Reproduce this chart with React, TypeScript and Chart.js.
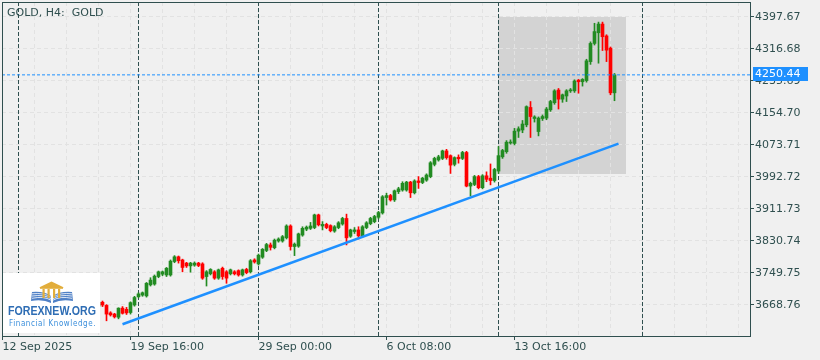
import { useEffect, useRef } from "react";
import { Chart, registerables } from "chart.js";

Chart.register(...registerables);

// ---- Data (GOLD H4, bar index 0 = 12 Sep 2025 08:00) ----
const OPEN = [
  3655, 3644, 3650, 3640, 3643, 3638, 3646, 3652, 3665, 3680,
  3679, 3685, 3695, 3690, 3700, 3696, 3690, 3688, 3676, 3668,
  3674, 3700, 3660, 3655, 3665, 3675, 3667, 3648, 3645, 3637,
  3660, 3657, 3649, 3668, 3689, 3693, 3691, 3719, 3721, 3740,
  3746, 3744, 3744, 3778, 3790, 3782, 3774, 3767, 3769, 3774,
  3772, 3740, 3747, 3752, 3736, 3761, 3752, 3747, 3752, 3755,
  3744, 3758, 3752, 3782, 3772, 3789, 3806, 3820, 3813, 3830,
  3830, 3838, 3868, 3816, 3817, 3845, 3860, 3862, 3864, 3896,
  3868, 3872, 3869, 3855, 3864, 3873, 3887, 3842, 3854, 3858,
  3843, 3864, 3874, 3879, 3890, 3901, 3940, 3945, 3934, 3955,
  3959, 3959, 3979, 3952, 3982, 3978, 3984, 3993, 4024, 4035,
  4039, 4058, 4046, 4024, 4042, 4039, 4054, 3969, 3973, 3993,
  3965, 3995, 3989, 3983, 4007, 4043, 4056, 4078, 4077, 4108,
  4111, 4124, 4168, 4140, 4107, 4140, 4141, 4162, 4180, 4212,
  4189, 4197, 4210, 4210, 4237, 4233, 4236, 4284, 4330, 4357,
  4379, 4349, 4318, 4205,
];
const HIGH = [
  3658, 3653, 3656, 3646, 3647, 3649, 3656, 3668, 3684, 3686,
  3690, 3699, 3702, 3704, 3703, 3699, 3694, 3691, 3680, 3679,
  3707, 3704, 3664, 3669, 3679, 3678, 3669, 3651, 3647, 3661,
  3664, 3662, 3676, 3690, 3699, 3701, 3725, 3737, 3744, 3754,
  3754, 3763, 3782, 3793, 3792, 3784, 3776, 3776, 3777, 3776,
  3775, 3755, 3760, 3755, 3759, 3764, 3755, 3759, 3755, 3757,
  3759, 3761, 3783, 3785, 3797, 3811, 3824, 3825, 3835, 3838,
  3844, 3871, 3871, 3825, 3850, 3866, 3868, 3877, 3898, 3898,
  3879, 3875, 3871, 3869, 3879, 3890, 3898, 3860, 3864, 3866,
  3869, 3879, 3890, 3895, 3905, 3945, 3951, 3948, 3959, 3966,
  3980, 3981, 3981, 3985, 3993, 3991, 4000, 4031, 4042, 4047,
  4060, 4062, 4048, 4043, 4048, 4057, 4057, 3979, 3996, 3996,
  3998, 4005, 4025, 4014, 4069, 4062, 4084, 4086, 4115, 4119,
  4135, 4172, 4183, 4147, 4144, 4149, 4168, 4186, 4213, 4216,
  4202, 4213, 4216, 4238, 4239, 4241, 4290, 4334, 4381, 4384,
  4384, 4352, 4321, 4254,
];
const LOW = [
  3641, 3638, 3636, 3634, 3632, 3635, 3642, 3649, 3661, 3672,
  3674, 3681, 3686, 3687, 3692, 3684, 3682, 3671, 3662, 3665,
  3660, 3652, 3648, 3651, 3662, 3664, 3628, 3640, 3635, 3633,
  3645, 3644, 3645, 3665, 3686, 3690, 3688, 3716, 3718, 3737,
  3742, 3740, 3741, 3775, 3774, 3752, 3763, 3751, 3766, 3765,
  3733, 3716, 3744, 3733, 3733, 3733, 3723, 3744, 3744, 3741,
  3741, 3747, 3749, 3774, 3769, 3786, 3803, 3807, 3810, 3827,
  3827, 3835, 3807, 3793, 3814, 3842, 3856, 3859, 3861, 3868,
  3858, 3861, 3853, 3852, 3861, 3870, 3820, 3839, 3849, 3835,
  3840, 3861, 3871, 3876, 3886, 3898, 3921, 3931, 3930, 3950,
  3956, 3956, 3940, 3949, 3963, 3975, 3981, 3990, 4020, 4032,
  4036, 4037, 4001, 4020, 4027, 4036, 3967, 3944, 3970, 3962,
  3962, 3980, 3972, 3979, 4001, 4039, 4052, 4075, 4073, 4092,
  4104, 4119, 4092, 4131, 4096, 4135, 4137, 4158, 4176, 4164,
  4181, 4183, 4206, 4206, 4204, 4222, 4232, 4277, 4326, 4280,
  4312, 4284, 4200, 4185,
];
const CLOSE = [
  3644, 3650, 3640, 3643, 3638, 3646, 3652, 3665, 3680, 3679,
  3685, 3695, 3690, 3700, 3696, 3690, 3688, 3676, 3668, 3674,
  3700, 3660, 3655, 3665, 3675, 3668, 3645, 3643, 3638, 3660,
  3647, 3648, 3674, 3687, 3696, 3699, 3723, 3731, 3741, 3752,
  3752, 3761, 3779, 3790, 3780, 3763, 3767, 3774, 3774, 3768,
  3736, 3752, 3758, 3736, 3757, 3740, 3736, 3757, 3747, 3744,
  3757, 3750, 3780, 3777, 3794, 3809, 3821, 3814, 3832, 3835,
  3841, 3868, 3816, 3822, 3848, 3862, 3865, 3868, 3896, 3871,
  3872, 3864, 3856, 3866, 3876, 3887, 3838, 3858, 3858, 3843,
  3866, 3876, 3887, 3892, 3902, 3942, 3945, 3934, 3957, 3962,
  3976, 3979, 3952, 3982, 3978, 3989, 3997, 4028, 4039, 4043,
  4058, 4041, 4022, 4041, 4038, 4054, 3969, 3976, 3993, 3965,
  3995, 3986, 3983, 4011, 4046, 4059, 4080, 4080, 4108, 4114,
  4126, 4170, 4145, 4144, 4141, 4145, 4164, 4183, 4210, 4189,
  4200, 4210, 4212, 4235, 4233, 4239, 4286, 4330, 4360, 4379,
  4347, 4313, 4205, 4250.44,
];

const Y_TICKS = [3668.76, 3749.75, 3830.74, 3911.73, 3992.72, 4073.71, 4154.7, 4235.69, 4316.68, 4397.67];
const X_GRID = [0, 8, 16, 24, 32, 40, 48, 56, 64, 72, 80, 88, 96, 104, 112, 120, 128, 136, 144, 152, 160, 168, 176, 184];
const X_LABEL_BARS = [0, 32, 64, 96, 128];
const X_LABELS = ["12 Sep 2025", "19 Sep 16:00", "29 Sep 00:00", "6 Oct 08:00", "13 Oct 16:00"];
const SEPARATOR_BARS = [4, 34, 64, 94, 124, 160];
const TREND_BARS = [30, 154];
const TREND_PRICES = [3619.2, 4076.3];
const BOX_BARS = [124, 156];
const BOX_PRICES = [4000.3, 4397.67];
const LAST_PRICE = 4250.44;
const Y_MIN = 3589.54;
const Y_MAX = 4434.87;
const X_MIN = -0.125;
const X_MAX = 186.875;

const TITLE = "GOLD, H4:  GOLD";
const FG = "#2F4F4F";
const BG = "#F0F0F0";
const GRID = "#E2E2E2";
const BOX = "#D3D3D3";
const BLUE = "#1E90FF";
const BULL = "#228B22";
const BEAR = "#FF0000";
const FONT = '"DejaVu Sans", sans-serif';

function drawLogo(ctx: CanvasRenderingContext2D) {
  ctx.save();
  ctx.fillStyle = "#FFFFFF";
  ctx.fillRect(3, 273, 97, 60);
  // book
  ctx.fillStyle = "#4F80C6";
  ctx.beginPath();
  ctx.moveTo(32, 292);
  ctx.quadraticCurveTo(44, 291, 51, 296);
  ctx.lineTo(51, 303);
  ctx.quadraticCurveTo(43, 299, 31, 301);
  ctx.closePath();
  ctx.fill();
  ctx.beginPath();
  ctx.moveTo(72, 292);
  ctx.quadraticCurveTo(60, 291, 53, 296);
  ctx.lineTo(53, 303);
  ctx.quadraticCurveTo(61, 299, 73, 301);
  ctx.closePath();
  ctx.fill();
  ctx.strokeStyle = "#FFFFFF";
  ctx.lineWidth = 0.8;
  for (const d of [2, 4.5, 7]) {
    ctx.beginPath();
    ctx.moveTo(32, 292 + d * 0.9);
    ctx.quadraticCurveTo(44, 291 + d * 0.7, 51, 296 + d * 0.6);
    ctx.stroke();
    ctx.beginPath();
    ctx.moveTo(72, 292 + d * 0.9);
    ctx.quadraticCurveTo(60, 291 + d * 0.7, 53, 296 + d * 0.6);
    ctx.stroke();
  }
  // building
  ctx.fillStyle = "#E2AD3B";
  ctx.beginPath();
  ctx.moveTo(39, 287.5);
  ctx.lineTo(51.5, 281.5);
  ctx.lineTo(64, 287.5);
  ctx.closePath();
  ctx.fill();
  ctx.fillRect(40, 287, 23, 1.8);
  for (const cx of [42.5, 47.5, 53, 58]) ctx.fillRect(cx, 289, 2.2, 9);
  // text
  ctx.textBaseline = "alphabetic";
  ctx.textAlign = "left";
  ctx.fillStyle = "#2E6DB4";
  ctx.font = 'bold 12px "Liberation Sans", sans-serif';
  ctx.fillText("FOREXNEW.ORG", 8, 314.5, 88);
  ctx.fillStyle = "#3A8EDB";
  ctx.font = '8.5px "DejaVu Sans", sans-serif';
  try {
    (ctx as any).letterSpacing = "0.7px";
  } catch (e) {}
  ctx.fillText("Financial Knowledge.", 9, 326, 87);
  ctx.restore();
}

const decoPlugin = {
  id: "deco",
  beforeDraw(chart: any) {
    const { ctx } = chart;
    const xs = chart.scales.x;
    const ys = chart.scales.y;
    ctx.save();
    ctx.fillStyle = BG;
    ctx.fillRect(0, 0, chart.width, chart.height);
    const x0 = Math.floor(xs.getPixelForValue(BOX_BARS[0]));
    const x1 = Math.floor(xs.getPixelForValue(BOX_BARS[1]));
    const y0 = Math.round(ys.getPixelForValue(BOX_PRICES[1]));
    const y1 = Math.round(ys.getPixelForValue(BOX_PRICES[0]));
    ctx.fillStyle = BOX;
    ctx.fillRect(x0, y0, x1 - x0, y1 - y0);
    ctx.restore();
  },
  beforeDatasetsDraw(chart: any) {
    const { ctx, chartArea: a } = chart;
    const xs = chart.scales.x;
    ctx.save();
    ctx.strokeStyle = FG;
    ctx.lineWidth = 1;
    ctx.setLineDash([4, 2]);
    for (const b of SEPARATOR_BARS) {
      const px = Math.round(xs.getPixelForValue(b) - 0.5) + 0.5;
      ctx.beginPath();
      ctx.moveTo(px, a.top);
      ctx.lineTo(px, a.bottom);
      ctx.stroke();
    }
    ctx.restore();
  },
  afterDraw(chart: any) {
    const { ctx, chartArea: a } = chart;
    const ys = chart.scales.y;
    ctx.save();
    ctx.strokeStyle = FG;
    ctx.lineWidth = 1;
    ctx.setLineDash([]);
    ctx.strokeRect(a.left + 0.5, a.top + 0.5, a.right - a.left, a.bottom - a.top);
    ctx.fillStyle = FG;
    ctx.font = "11px " + FONT;
    ctx.textBaseline = "alphabetic";
    ctx.textAlign = "left";
    ctx.fillText(TITLE, 7, 16);
    const yp = Math.round(ys.getPixelForValue(LAST_PRICE));
    ctx.fillStyle = BLUE;
    ctx.fillRect(a.right + 3, yp - 8, 55, 14);
    ctx.fillStyle = "#FFFFFF";
    ctx.textBaseline = "middle";
    ctx.fillText(LAST_PRICE.toFixed(2), a.right + 5, yp - 1);
    ctx.restore();
    drawLogo(ctx);
  },
};

export default function App() {
  const ref = useRef<HTMLCanvasElement | null>(null);

  useEffect(() => {
    document.body.style.margin = "0";
    document.body.style.background = BG;
    const canvas = ref.current;
    if (!canvas) return;
    const colors = OPEN.map((o, i) => (CLOSE[i] >= o ? BULL : BEAR));
    const bodies = OPEN.map((o, i) => ({ x: i, y: [Math.min(o, CLOSE[i]), Math.max(o, CLOSE[i])] }));
    const wicks = OPEN.map((_, i) => ({ x: i, y: [LOW[i], HIGH[i]] }));

    const chart = new Chart(canvas, {
      type: "bar",
      data: {
        datasets: [
          {
            type: "line",
            label: "trend",
            data: [
              { x: TREND_BARS[0], y: TREND_PRICES[0] },
              { x: TREND_BARS[1], y: TREND_PRICES[1] },
            ],
            borderColor: BLUE,
            borderWidth: 2.5,
            pointRadius: 0,
            order: 0,
          } as any,
          {
            type: "line",
            label: "last",
            data: [
              { x: X_MIN, y: LAST_PRICE },
              { x: X_MAX, y: LAST_PRICE },
            ],
            borderColor: BLUE,
            borderWidth: 1,
            borderDash: [3, 2],
            pointRadius: 0,
            order: 1,
          } as any,
          {
            type: "bar",
            label: "body",
            data: bodies as any,
            backgroundColor: colors,
            borderWidth: 0,
            barThickness: 3,
            grouped: false,
            minBarLength: 1,
            order: 2,
          } as any,
          {
            type: "bar",
            label: "wick",
            data: wicks as any,
            backgroundColor: colors,
            borderWidth: 0,
            barThickness: 1,
            grouped: false,
            order: 3,
          } as any,
        ],
      },
      options: {
        responsive: false,
        animation: false,
        devicePixelRatio: 1,
        layout: { padding: { left: 2, top: 2, right: 0, bottom: 0 } },
        plugins: { legend: { display: false }, tooltip: { enabled: false } },
        scales: {
          x: {
            type: "linear",
            min: X_MIN,
            max: X_MAX,
            offset: false,
            position: "bottom",
            grid: {
              offset: false,
              color: GRID,
              lineWidth: 1,
              drawTicks: true,
              tickLength: 4,
              tickColor: (c: any) =>
                c.tick && X_LABEL_BARS.includes(c.tick.value) ? FG : "rgba(0,0,0,0)",
            },
            border: { display: false, dash: [4, 3] },
            ticks: {
              autoSkip: false,
              maxRotation: 0,
              minRotation: 0,
              align: "start",
              padding: 1,
              color: FG,
              font: { family: FONT, size: 11 },
              callback: (v: any) => {
                const k = X_LABEL_BARS.indexOf(Number(v));
                return k >= 0 ? X_LABELS[k] : "";
              },
            },
            afterBuildTicks: (s: any) => {
              s.ticks = X_GRID.map((v) => ({ value: v }));
            },
            afterFit: (s: any) => {
              s.height = 24;
              s.paddingLeft = 0;
              s.paddingRight = 0;
            },
          } as any,
          y: {
            type: "linear",
            position: "right",
            min: Y_MIN,
            max: Y_MAX,
            beginAtZero: false,
            grid: { color: GRID, lineWidth: 1, tickLength: 4, tickColor: FG },
            border: { display: false, dash: [4, 3] },
            ticks: {
              padding: 1,
              color: FG,
              font: { family: FONT, size: 11 },
              callback: (v: any) => Number(v).toFixed(2),
            },
            afterBuildTicks: (s: any) => {
              s.ticks = Y_TICKS.map((v) => ({ value: v }));
            },
            afterFit: (s: any) => {
              s.width = 70;
              s.paddingTop = 0;
              s.paddingBottom = 0;
            },
          } as any,
        },
      },
      plugins: [decoPlugin],
    });
    return () => chart.destroy();
  }, []);

  return (
    <div style={{ position: "fixed", left: 0, top: 0, width: 820, height: 360, background: BG }}>
      <canvas ref={ref} width={820} height={360} style={{ display: "block" }} />
    </div>
  );
}
